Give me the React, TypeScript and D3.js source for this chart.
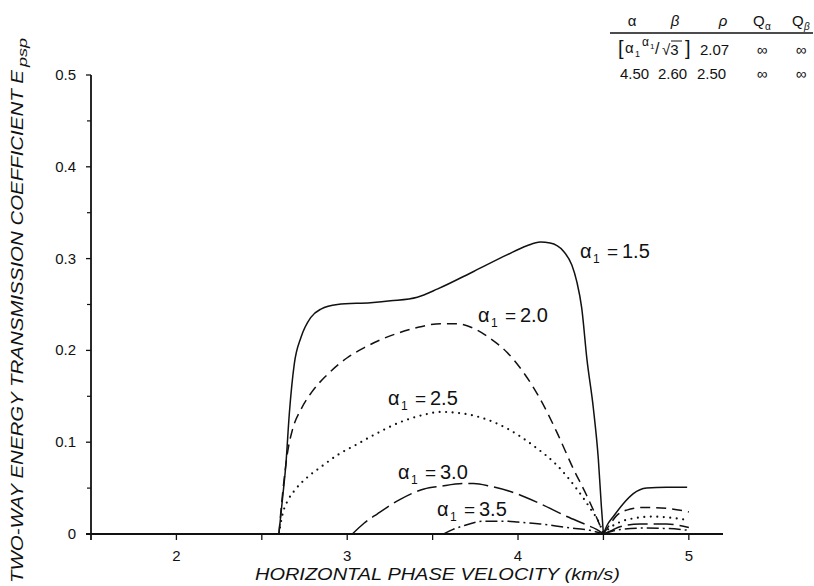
import React from "react";
import * as d3 from "d3";

// ---- data ----
const seriesNames = ["1.5", "2.0", "2.5", "3.0", "3.5"];

const a15Main: [number, number][] = [
  [2.6, 0], [2.622, 0.04], [2.641, 0.076], [2.661, 0.131], [2.69, 0.185], [2.729, 0.214],
  [2.787, 0.236], [2.846, 0.245], [2.943, 0.25], [3.137, 0.252], [3.254, 0.254], [3.41, 0.258],
  [3.53, 0.267], [3.74, 0.286], [3.935, 0.304], [4.052, 0.314], [4.13, 0.318], [4.188, 0.317],
  [4.266, 0.308], [4.315, 0.293], [4.344, 0.275], [4.373, 0.246], [4.403, 0.191], [4.441, 0.137],
  [4.47, 0.082], [4.488, 0.03], [4.5, 0],
];
const a15Tail: [number, number][] = [
  [4.5, 0], [4.52, 0.009], [4.558, 0.019], [4.616, 0.033], [4.675, 0.044], [4.753, 0.05],
  [4.87, 0.051], [4.99, 0.051],
];
const a20Main: [number, number][] = [
  [2.6, 0], [2.625, 0.05], [2.65, 0.088], [2.68, 0.114], [2.73, 0.136], [2.79, 0.154],
  [2.88, 0.173], [3.0, 0.192], [3.1, 0.203], [3.2, 0.212], [3.3, 0.219], [3.41, 0.225],
  [3.546, 0.229], [3.644, 0.229], [3.74, 0.224], [3.838, 0.213], [3.935, 0.198], [4.032, 0.176],
  [4.13, 0.147], [4.227, 0.111], [4.324, 0.071], [4.402, 0.042], [4.46, 0.018], [4.5, 0],
];
const a20Tail: [number, number][] = [
  [4.5, 0], [4.54, 0.011], [4.577, 0.02], [4.636, 0.026], [4.733, 0.029], [4.87, 0.028], [5.0, 0.024],
];
const a25Main: [number, number][] = [
  [2.6, 0], [2.622, 0.022], [2.651, 0.036], [2.69, 0.047], [2.768, 0.062], [2.846, 0.073],
  [2.943, 0.086], [3.06, 0.098], [3.137, 0.106], [3.313, 0.122], [3.45, 0.13], [3.546, 0.133],
  [3.644, 0.132], [3.78, 0.127], [3.935, 0.115], [4.091, 0.096], [4.227, 0.075], [4.344, 0.049],
  [4.422, 0.028], [4.48, 0.01], [4.5, 0],
];
const a25Tail: [number, number][] = [
  [4.5, 0], [4.54, 0.007], [4.597, 0.013], [4.675, 0.017], [4.79, 0.019], [4.928, 0.017], [5.0, 0.015],
];
const a30Main: [number, number][] = [
  [3.03, 0], [3.1, 0.012], [3.177, 0.022], [3.313, 0.038], [3.45, 0.049], [3.546, 0.052],
  [3.682, 0.055], [3.74, 0.055], [3.838, 0.052], [3.96, 0.046], [4.13, 0.033], [4.286, 0.019],
  [4.4, 0.01], [4.46, 0.005], [4.5, 0],
];
const a30Tail: [number, number][] = [
  [4.5, 0], [4.55, 0.004], [4.597, 0.008], [4.714, 0.011], [4.87, 0.011], [5.0, 0.007],
];
const a35Main: [number, number][] = [
  [3.565, 0], [3.62, 0.005], [3.682, 0.009], [3.8, 0.014], [3.935, 0.014], [4.0, 0.013],
  [4.13, 0.011], [4.286, 0.007], [4.42, 0.004], [4.5, 0],
];
const a35Tail: [number, number][] = [
  [4.5, 0], [4.55, 0.003], [4.6, 0.005], [4.733, 0.0065], [4.87, 0.006], [5.0, 0.004],
];

const xTickValues = [2, 3, 4, 5];
const xTickLabels = ["2", "3", "4", "5"];
const xMinorTicks = [2.5, 3.5, 4.5];
const yTickValues = [0, 0.1, 0.2, 0.3, 0.4, 0.5];
const yTickLabels = ["0", "0.1", "0.2", "0.3", "0.4", "0.5"];
const yMinorTicks = [0.05, 0.15, 0.25, 0.35, 0.45];

const tableHeader = ["α", "β", "ρ", "Q", "Q"];
const tableRow2 = ["4.50", "2.60", "2.50", "∞", "∞"];

// ---- styles / layout ----
const dashes = ["", "10 6", "0 6.5", "20 6", "12 4 2 4"];
const widths = [1.5, 1.5, 2.2, 1.5, 1.5];
const labelPos = [
  { x: 580, y: 258 },
  { x: 478, y: 322 },
  { x: 388, y: 405 },
  { x: 398, y: 479 },
  { x: 437, y: 516 },
];

const FONT = "'Liberation Sans', 'DejaVu Sans', Arial, sans-serif";

export default function App() {
  const x = d3.scaleLinear().domain([1.5, 5.2]).range([91, 723]);
  const y = d3.scaleLinear().domain([0, 0.5]).range([534, 75]);
  const line = d3
    .line<[number, number]>()
    .x((d) => x(d[0]))
    .y((d) => y(d[1]))
    .curve(d3.curveMonotoneX);

  const curves = [
    [a15Main, a15Tail],
    [a20Main, a20Tail],
    [a25Main, a25Tail],
    [a30Main, a30Tail],
    [a35Main, a35Tail],
  ];

  const x0 = x.range()[0];
  const x1 = x.range()[1];
  const yb = y(0);
  const yt = y(0.5);
  const ink = "#111";

  return (
    <svg
      width={814}
      height={586}
      style={{ position: "absolute", left: 0, top: 0, background: "#fff" }}
      fontFamily={FONT}
    >
      <rect width={814} height={586} fill="#fff" />
      {/* axes */}
      <line x1={x0} x2={x0} y1={yt} y2={yb + 6} stroke={ink} strokeWidth={1.8} />
      <line x1={x0 - 5} x2={x1} y1={yb} y2={yb} stroke={ink} strokeWidth={1.8} />
      {yTickValues.map((v, i) => (
        <g key={"yt" + i}>
          <line x1={x0 - 5} x2={x0} y1={y(v)} y2={y(v)} stroke={ink} strokeWidth={1.3} />
          <text x={x0 - 15} y={y(v) + 5} textAnchor="end" fontSize={15} fill={ink}>
            {yTickLabels[i]}
          </text>
        </g>
      ))}
      {yMinorTicks.map((v, i) => (
        <line key={"ym" + i} x1={x0 - 4} x2={x0} y1={y(v)} y2={y(v)} stroke={ink} strokeWidth={1.2} />
      ))}
      {xTickValues.map((v, i) => (
        <g key={"xt" + i}>
          <line x1={x(v)} x2={x(v)} y1={yb} y2={yb + 6} stroke={ink} strokeWidth={1.3} />
          <text x={x(v)} y={561} textAnchor="middle" fontSize={15} fill={ink}>
            {xTickLabels[i]}
          </text>
        </g>
      ))}
      {xMinorTicks.map((v, i) => (
        <line key={"xm" + i} x1={x(v)} x2={x(v)} y1={yb} y2={yb + 6} stroke={ink} strokeWidth={1.3} />
      ))}

      {/* axis titles */}
      <text
        x={255}
        y={580}
        fontSize={16}
        fontStyle="italic"
        textLength={365}
        lengthAdjust="spacingAndGlyphs"
        fill={ink}
      >
        HORIZONTAL PHASE VELOCITY (km/s)
      </text>
      <g transform="translate(23,583) rotate(-90)">
        <text
          x={0}
          y={0}
          fontSize={16}
          fontStyle="italic"
          textLength={513}
          lengthAdjust="spacingAndGlyphs"
          fill={ink}
        >
          TWO-WAY ENERGY TRANSMISSION COEFFICIENT E
        </text>
        <text x={516} y={4} fontSize={13} fontStyle="italic" textLength={29} lengthAdjust="spacingAndGlyphs" fill={ink}>
          psp
        </text>
      </g>

      {/* curves */}
      {curves.map((parts, i) =>
        parts.map((pts, j) => (
          <path
            key={"c" + i + "-" + j}
            d={line(pts) || ""}
            fill="none"
            stroke={ink}
            strokeWidth={widths[i]}
            strokeDasharray={dashes[i] || undefined}
            strokeLinecap={i === 2 ? "round" : "butt"}
          />
        ))
      )}

      {/* curve labels */}
      {seriesNames.map((n, i) => {
        const p = labelPos[i];
        return (
          <g key={"lab" + i} fill={ink}>
            <text x={p.x} y={p.y} fontSize={20}>α</text>
            <text x={p.x + 13} y={p.y + 5} fontSize={12}>1</text>
            <text x={p.x + 27} y={p.y} fontSize={19}>=</text>
            <text x={p.x + 42} y={p.y} fontSize={20}>{n}</text>
          </g>
        );
      })}

      {/* parameter table */}
      <g fill={ink} fontSize={15}>
        <text x={632} y={26} textAnchor="middle">{tableHeader[0]}</text>
        <text x={675} y={26} textAnchor="middle" fontStyle="italic">{tableHeader[1]}</text>
        <text x={723} y={26} textAnchor="middle" fontStyle="italic">{tableHeader[2]}</text>
        <text x={753} y={26}>{tableHeader[3]}</text>
        <text x={765} y={30} fontSize={10}>α</text>
        <text x={792} y={26}>{tableHeader[4]}</text>
        <text x={804} y={30} fontSize={10} fontStyle="italic">β</text>
        <line x1={610} x2={813} y1={33} y2={33} stroke={ink} strokeWidth={1.3} />

        <text x={618} y={55} fontSize={20}>[</text>
        <text x={625} y={53}>α</text>
        <text x={635} y={57} fontSize={9}>1</text>
        <text x={642} y={46} fontSize={12}>α</text>
        <text x={650} y={49} fontSize={8}>1</text>
        <text x={655} y={54} fontSize={16}>/</text>
        <text x={662} y={55}>√3</text>
        <line x1={671} x2={682} y1={41} y2={41} stroke={ink} strokeWidth={1} />
        <text x={685} y={55} fontSize={20}>]</text>
        <text x={700} y={55}>2.07</text>
        <text x={762} y={55} textAnchor="middle">∞</text>
        <text x={801} y={55} textAnchor="middle">∞</text>

        <text x={620} y={79}>{tableRow2[0]}</text>
        <text x={658} y={79}>{tableRow2[1]}</text>
        <text x={697} y={79}>{tableRow2[2]}</text>
        <text x={762} y={79} textAnchor="middle">{tableRow2[3]}</text>
        <text x={801} y={79} textAnchor="middle">{tableRow2[4]}</text>
      </g>
    </svg>
  );
}
